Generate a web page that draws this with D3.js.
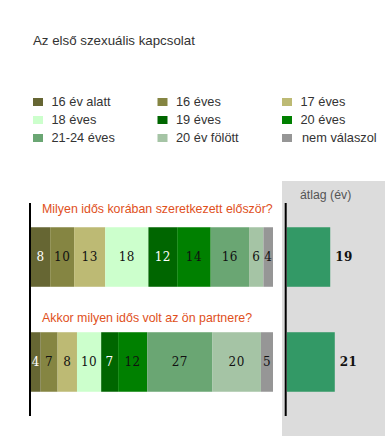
<!DOCTYPE html>
<html>
<head>
<meta charset="utf-8">
<script src="https://cdn.jsdelivr.net/npm/d3@7"></script>
<style>
  body { margin: 0; background: #fff; }
  svg { display: block; font-family: "Liberation Sans", Arial, sans-serif; }
</style>
</head>
<body>
<div id="chart"></div>
<script>
// Data
const chartTitle = 'Az első szexuális kapcsolat';
const categories = ['16 év alatt', '16 éves', '17 éves', '18 éves', '19 éves', '20 éves', '21-24 éves', '20 év fölött', 'nem válaszol'];
const colors = ['#666633', '#858542', '#bdba74', '#ccffcc', '#006600', '#008000', '#6aa673', '#a5c4a5', '#969696'];
const questions = ['Milyen idős korában szeretkezett először?', 'Akkor milyen idős volt az ön partnere?'];
const firstValues = [8, 10, 13, 18, 12, 14, 16, 6, 4];
const partnerValues = [4, 7, 8, 10, 7, 12, 27, 20, 5];
const averages = [19, 21];
const avgTitle = 'átlag (év)';
// labels drawn in white on the dark segments
const whiteLabels = ['16 év alatt', '19 éves'];

const width = 385, height = 436;

const svg = d3.select('#chart').append('svg')
  .attr('width', width)
  .attr('height', height);

// Title
svg.append('text')
  .attr('x', 33)
  .attr('y', 45)
  .attr('font-size', 13.3)
  .attr('fill', '#333')
  .text(chartTitle);

// Legend (3 columns)
const legend = svg.append('g').selectAll('g')
  .data(categories)
  .join('g')
  .attr('transform', (d, i) => `translate(${33 + (i % 3) * 124.5},${102 + Math.floor(i / 3) * 18})`);

legend.append('rect')
  .attr('x', 0)
  .attr('y', -4)
  .attr('width', 10)
  .attr('height', 8)
  .attr('fill', (d, i) => colors[i]);

legend.append('text')
  .attr('x', (d, i) => i === 8 ? 20 : 18.5)
  .attr('dy', '0.35em')
  .attr('font-size', 12.8)
  .attr('fill', '#333')
  .text(d => d);

// Gray panel for averages
svg.append('rect')
  .attr('x', 282)
  .attr('y', 181)
  .attr('width', width - 282)
  .attr('height', height - 181)
  .attr('fill', '#dcdcdc');

svg.append('text')
  .attr('x', 300)
  .attr('y', 199)
  .attr('font-size', 12.3)
  .attr('fill', '#555')
  .text(avgTitle);

// Scales
const y = d3.scaleBand()
  .domain(questions)
  .range([203, 416])
  .paddingInner(0.433)
  .paddingOuter(0.231);

const x = d3.scaleLinear()
  .domain([0, 1])
  .range([31, 273]);

const xAvg = d3.scaleLinear()
  .domain([0, 40])
  .range([287, 378]);

const color = d3.scaleOrdinal()
  .domain(categories)
  .range(colors);

// Stacked (100%) rows
const rows = questions.map((q, i) => {
  const vals = i === 0 ? firstValues : partnerValues;
  const row = { question: q };
  categories.forEach((c, j) => { row[c] = vals[j]; });
  return row;
});

const series = d3.stack()
  .keys(categories)
  .offset(d3.stackOffsetExpand)(rows);

const layer = svg.append('g').selectAll('g')
  .data(series)
  .join('g')
  .attr('fill', d => color(d.key));

layer.selectAll('rect')
  .data(d => d.map(p => Object.assign(p, { key: d.key })))
  .join('rect')
  .attr('x', d => x(d[0]))
  .attr('y', d => y(d.data.question))
  .attr('width', d => x(d[1]) - x(d[0]))
  .attr('height', y.bandwidth());

layer.selectAll('text')
  .data(d => d)
  .join('text')
  .attr('x', d => (x(d[0]) + x(d[1])) / 2)
  .attr('y', d => y(d.data.question) + y.bandwidth() / 2)
  .attr('dy', '0.35em')
  .attr('text-anchor', 'middle')
  .attr('font-family', '"DejaVu Serif", Georgia, serif')
  .attr('font-size', 12)
  .attr('letter-spacing', 0.5)
  .attr('fill', d => whiteLabels.includes(d.key) ? '#fff' : '#111')
  .text(d => d.data[d.key]);

// Question titles
const titleGap = [14.5, 10];
svg.append('g').selectAll('text')
  .data(questions)
  .join('text')
  .attr('x', 42)
  .attr('y', (d, i) => y(d) - titleGap[i])
  .attr('font-size', 12.4)
  .attr('fill', '#e0501c')
  .text(d => d);

// Average bars
svg.append('g').selectAll('rect')
  .data(averages)
  .join('rect')
  .attr('x', xAvg(0))
  .attr('y', (d, i) => y(questions[i]))
  .attr('width', d => xAvg(d) - xAvg(0))
  .attr('height', y.bandwidth())
  .attr('fill', '#339966');

svg.append('g').selectAll('text')
  .data(averages)
  .join('text')
  .attr('x', d => xAvg(d) + 5)
  .attr('y', (d, i) => y(questions[i]) + y.bandwidth() / 2)
  .attr('dy', '0.35em')
  .attr('font-family', '"DejaVu Serif", Georgia, serif')
  .attr('font-size', 12)
  .attr('font-weight', 'bold')
  .attr('letter-spacing', 0.5)
  .attr('fill', '#111')
  .text(d => d);

// Vertical axis lines
[30, 285.7].forEach(xx => {
  svg.append('line')
    .attr('x1', xx).attr('x2', xx)
    .attr('y1', 203).attr('y2', 416)
    .attr('stroke', '#000')
    .attr('stroke-width', 2);
});
</script>
</body>
</html>
